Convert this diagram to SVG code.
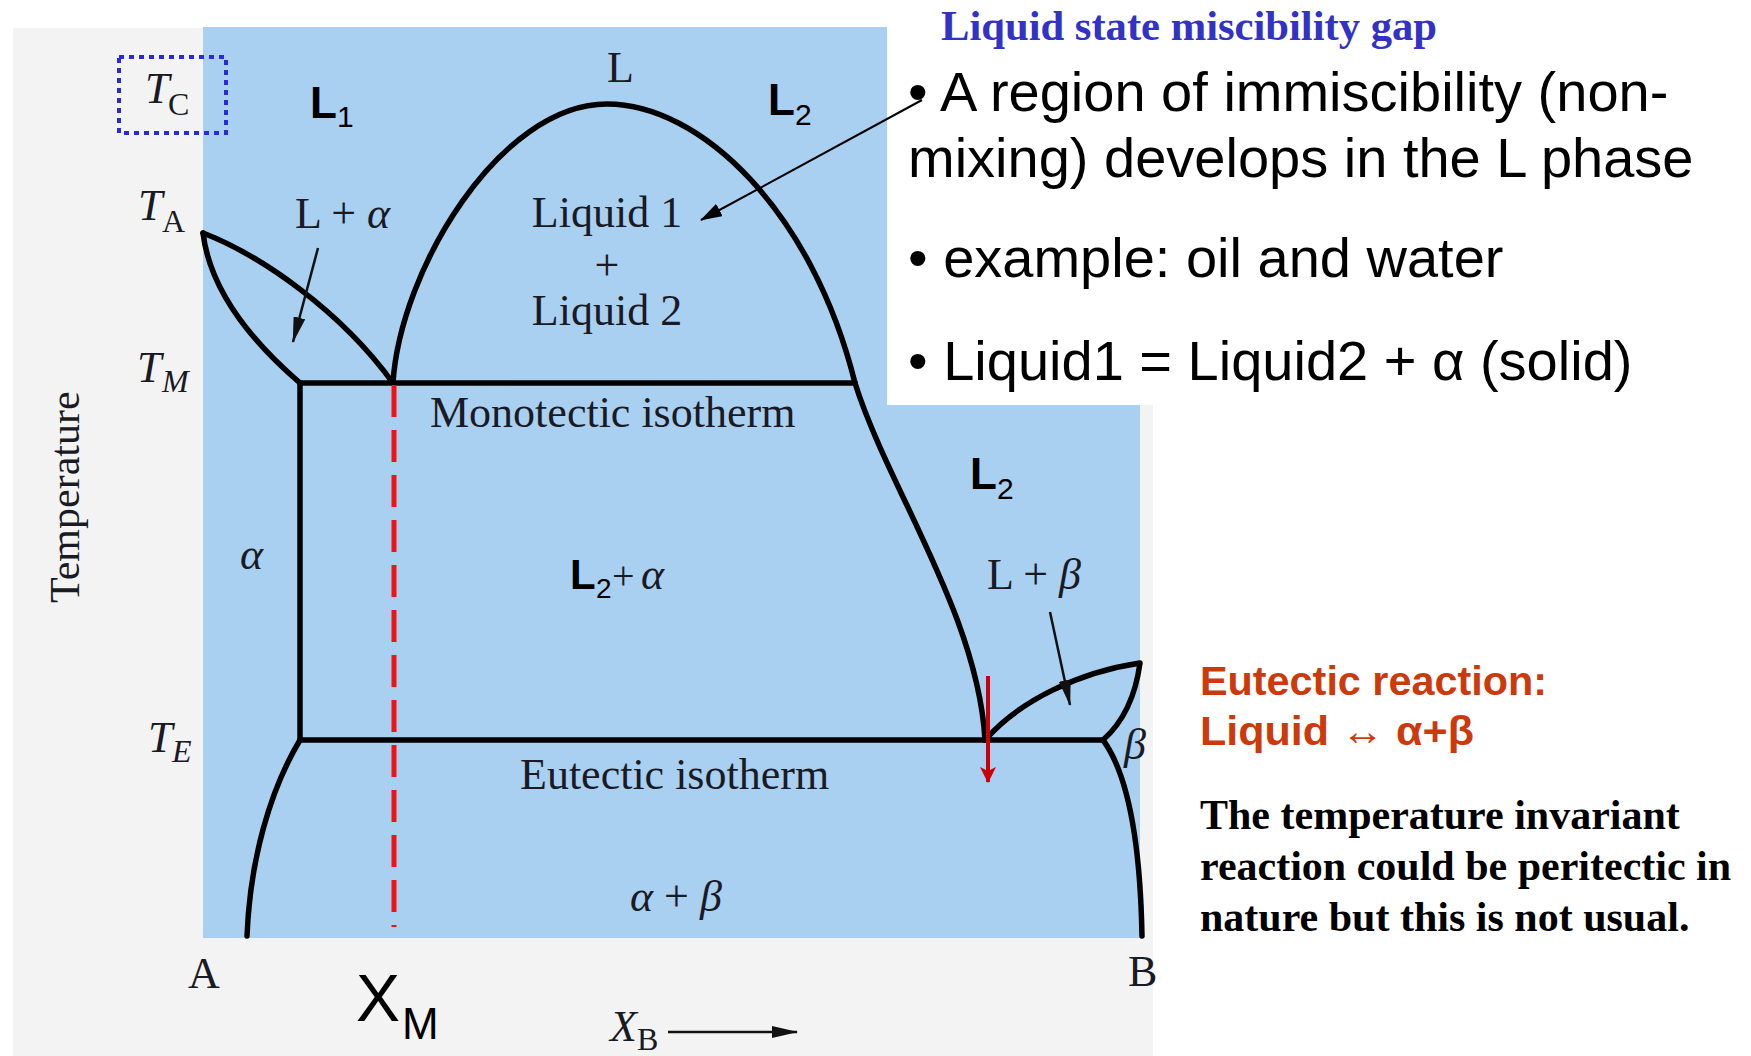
<svg xmlns="http://www.w3.org/2000/svg" width="1751" height="1056" viewBox="0 0 1751 1056">
<style>
.serif{font-family:"Liberation Serif","Times New Roman",serif;fill:#1a1a24}
.it{font-style:italic}
.sans{font-family:"Liberation Sans",Arial,sans-serif;fill:#000}
.bold{font-weight:bold}
.curve{fill:none;stroke:#000;stroke-width:5.5;stroke-linejoin:round;stroke-linecap:round}
</style>
<defs>
<marker id="ahBlack" markerUnits="userSpaceOnUse" markerWidth="22" markerHeight="14" refX="21" refY="7" orient="auto">
<path d="M0,0 L22,7 L0,14 z" fill="#000"/>
</marker>
<marker id="ahSmall" markerUnits="userSpaceOnUse" markerWidth="26" markerHeight="12" refX="25" refY="6" orient="auto">
<path d="M0,0 L26,6 L0,12 z" fill="#111"/>
</marker>
<marker id="ahRed" markerUnits="userSpaceOnUse" markerWidth="16" markerHeight="16" refX="15" refY="8" orient="auto">
<path d="M0,0 L16,8 L0,16 L4,8 z" fill="#c8000a"/>
</marker>
</defs>

<!-- backgrounds -->
<rect x="0" y="0" width="1751" height="1056" fill="#fff"/>
<rect x="13" y="28" width="1140" height="1028" fill="#f3f3f3"/>
<rect x="203" y="27" width="937" height="911" fill="#a9cff1"/>
<rect x="887" y="0" width="864" height="405" fill="#fff"/>

<!-- phase boundaries -->
<g id="boundaries">
<path class="curve" d="M203,233 C260,255 340,310 393,383"/>
<path class="curve" d="M203,233 C210,290 250,340 300,383"/>
<path class="curve" d="M393,383 C400,270 500,104 607,104 C700,104 812,210 855,383"/>
<path class="curve" d="M855,383 C888,488 978,615 985,740"/>
<path class="curve" d="M300,383 L855,383"/>
<path class="curve" d="M300,383 L300,740"/>
<path class="curve" d="M300,740 L1103,740"/>
<path class="curve" d="M300,740 C270,790 250,860 247,936"/>
<path class="curve" d="M985,740 C1020,700 1080,672 1140,663 C1135,700 1120,725 1103,740"/>
<path class="curve" d="M1103,740 C1125,770 1140,830 1142,936"/>
</g>

<!-- composition line X_M -->
<line x1="394" y1="385" x2="394" y2="927" stroke="#ee1414" stroke-width="5" stroke-dasharray="32 13"/>

<!-- Tc highlight box -->
<rect x="119" y="57" width="107" height="76" fill="none" stroke="#2a2ad8" stroke-width="4" stroke-dasharray="5 5"/>

<!-- connectors -->
<g id="connectors">
<line x1="318" y1="248" x2="293" y2="342" stroke="#111" stroke-width="2.5" marker-end="url(#ahSmall)"/>
<line x1="1050" y1="612" x2="1070" y2="705" stroke="#111" stroke-width="2.5" marker-end="url(#ahSmall)"/>
<line x1="668" y1="1032" x2="797" y2="1032" stroke="#111" stroke-width="2.5" marker-end="url(#ahSmall)"/>
<line x1="922" y1="100" x2="701" y2="220" stroke="#000" stroke-width="2" marker-end="url(#ahBlack)"/>
<line x1="988" y1="676" x2="988" y2="782" stroke="#c8000a" stroke-width="4" marker-end="url(#ahRed)"/>
</g>

<!-- axis labels -->
<g id="temps">
<text class="serif it" font-size="44" x="145" y="103">T</text>
<text class="serif" font-size="32" x="168" y="115">C</text>
<text class="serif it" font-size="44" x="138" y="220">T</text>
<text class="serif" font-size="32" x="162" y="232">A</text>
<text class="serif it" font-size="44" x="137" y="382">T</text>
<text class="serif it" font-size="32" x="162" y="392">M</text>
<text class="serif it" font-size="44" x="148" y="752">T</text>
<text class="serif it" font-size="32" x="172" y="762">E</text>
</g>
<g id="temperature-axis">
<text class="serif" font-size="42" transform="translate(79,603) rotate(-90)">Temperature</text>
</g>
<g id="comp-axis">
<text class="serif" font-size="44" x="188" y="988">A</text>
<text class="serif" font-size="44" x="1128" y="986">B</text>
<text class="sans" font-size="66" x="356" y="1021">X</text>
<text class="sans" font-size="44" x="402" y="1039">M</text>
<text class="serif it" font-size="44" x="610" y="1041">X</text>
<text class="serif" font-size="32" x="637" y="1050">B</text>
</g>

<!-- phase labels -->
<g id="label-L1"><text class="sans bold" font-size="44" x="310" y="118">L</text><text class="sans" font-size="30" x="337" y="127">1</text></g>
<g id="label-L"><text class="serif" font-size="44" x="607" y="82">L</text></g>
<g id="label-L2-top"><text class="sans bold" font-size="44" x="768" y="115">L</text><text class="sans" font-size="30" x="795" y="125">2</text></g>
<g id="label-L2-right"><text class="sans bold" font-size="44" x="970" y="489">L</text><text class="sans" font-size="30" x="997" y="499">2</text></g>
<g id="label-liquid12">
<text class="serif" font-size="44" x="607" y="227" text-anchor="middle">Liquid 1</text>
<text class="serif" font-size="44" x="607" y="280" text-anchor="middle">+</text>
<text class="serif" font-size="44" x="607" y="325" text-anchor="middle">Liquid 2</text>
</g>
<g id="label-La"><text class="serif" font-size="44" x="295" y="228">L + <tspan class="it">α</tspan></text></g>
<g id="label-Lb"><text class="serif" font-size="44" x="987" y="589">L + <tspan class="it">β</tspan></text></g>
<g id="label-alpha"><text class="serif it" font-size="44" x="240" y="569">α</text></g>
<g id="label-beta"><text class="serif it" font-size="44" x="1124" y="759">β</text></g>
<g id="label-L2a"><text class="sans bold" font-size="42" x="570" y="589">L</text><text class="sans" font-size="28" x="596" y="598">2</text><text class="serif" font-size="40" x="612" y="589">+</text><text class="serif it" font-size="44" x="641" y="589">α</text></g>
<g id="label-ab"><text class="serif" font-size="44" x="630" y="911"><tspan class="it">α</tspan> + <tspan class="it">β</tspan></text></g>
<g id="label-mono"><text class="serif" font-size="44" x="430" y="427">Monotectic isotherm</text></g>
<g id="label-eut"><text class="serif" font-size="44" x="520" y="789">Eutectic isotherm</text></g>

<!-- right text -->
<g id="title"><text x="941" y="40" font-family="Liberation Serif, Times New Roman, serif" font-weight="bold" font-size="42" fill="#3232c4" textLength="496" lengthAdjust="spacingAndGlyphs">Liquid state miscibility gap</text></g>
<g id="bullets">
<text class="sans" font-size="56" x="908" y="111">• A region of immiscibility (non-</text>
<text class="sans" font-size="56" x="908" y="177">mixing) develops in the L phase</text>
<text class="sans" font-size="56" x="908" y="277">• example: oil and water</text>
<text class="sans" font-size="56" x="908" y="380">• Liquid1 = Liquid2 + α (solid)</text>
</g>
<g id="eutectic-note">
<text x="1200" y="695" font-family="Liberation Sans, Arial, sans-serif" font-weight="bold" font-size="40" fill="#cc3a0c" textLength="347" lengthAdjust="spacingAndGlyphs">Eutectic reaction:</text>
<text x="1200" y="745" font-family="Liberation Sans, Arial, sans-serif" font-weight="bold" font-size="40" fill="#cc3a0c" textLength="274" lengthAdjust="spacingAndGlyphs">Liquid ↔ α+β</text>
</g>
<g id="peritectic-note" font-family="Liberation Serif, Times New Roman, serif" font-weight="bold" font-size="42" fill="#000">
<text x="1200" y="829">The temperature invariant</text>
<text x="1200" y="880">reaction could be peritectic in</text>
<text x="1200" y="931">nature but this is not usual.</text>
</g>
</svg>
